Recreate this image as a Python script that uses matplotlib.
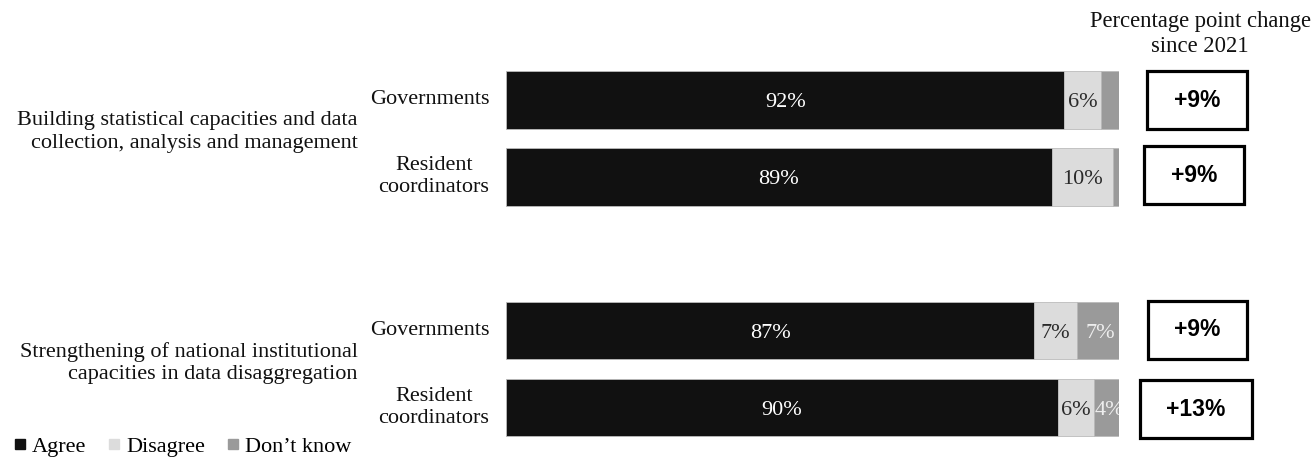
import matplotlib
matplotlib.use("Agg")
import matplotlib.pyplot as plt
from matplotlib.patches import Rectangle
from matplotlib.lines import Line2D
import numpy as np

# ---- data ----
groups = ["Building statistical capacities and data\ncollection, analysis and management",
          "Strengthening of national institutional\ncapacities in data disaggregation"]
respondents = ["Governments", "Resident\ncoordinators", "Governments", "Resident\ncoordinators"]
agree = [92, 89, 87, 90]
disagree = [6, 10, 7, 6]
dont_know = [3, 1, 7, 4]
show_dk_label = [False, False, True, True]
changes = ["+9%", "+9%", "+9%", "+13%"]
series_names = ["Agree", "Disagree", "Don\u2019t know"]

# ---- style ----
W, H = 1315, 458
SERIF = ["Liberation Serif", "DejaVu Serif"]
SANS = ["Liberation Sans", "DejaVu Sans"]
c_agree, c_dis, c_dk = "#111111", "#dcdcdc", "#9a9a9a"
fs = 16

fig = plt.figure(figsize=(W / 100, H / 100), dpi=100)

def px(x0, y0, x1, y1):
    return [x0 / W, 1 - y1 / H, (x1 - x0) / W, (y1 - y0) / H]

ypos = np.array([0, 1, 3, 4])
ax = fig.add_axes(px(506, 61.5, 1119, 446))
ax.set_xlim(0, 100)
ax.set_ylim(4.5, -0.5)
ax.axis("off")

tot = np.array(agree) + np.array(disagree) + np.array(dont_know)
a = np.array(agree) / tot * 100
d = np.array(disagree) / tot * 100
k = np.array(dont_know) / tot * 100
bh = 0.75
ax.barh(ypos, a, height=bh, color=c_agree, edgecolor="#bbbbbb", linewidth=0.6)
ax.barh(ypos, d, left=a, height=bh, color=c_dis, edgecolor="#bbbbbb", linewidth=0.6)
ax.barh(ypos, k, left=a + d, height=bh, color=c_dk, edgecolor="#bbbbbb", linewidth=0.6)

dy = 0.035
for i, y in enumerate(ypos):
    ax.text(a[i] / 2, y + dy, f"{agree[i]}%", ha="center", va="center", color="white",
            fontsize=fs, family=SERIF)
    ax.text(a[i] + d[i] / 2, y + dy, f"{disagree[i]}%", ha="center", va="center",
            color="#2a2a2a", fontsize=fs, family=SERIF, clip_on=True)
    if show_dk_label[i]:
        ax.text(a[i] + d[i] + k[i] / 2 + 0.4, y + dy, f"{dont_know[i]}%", ha="center",
                va="center", color="#eeeeee", fontsize=fs, family=SERIF, clip_on=True)

# respondent labels
for i, y in enumerate(ypos):
    ax.text(-2.7, y, respondents[i], ha="right", va="center",
            multialignment="center", fontsize=fs, family=SERIF, color="#111111",
            linespacing=1.2)

# group labels
for g, yc in enumerate([0.42, 3.42]):
    ax.text(-24.2, yc, groups[g], ha="right", va="center", multialignment="right",
            fontsize=fs, family=SERIF, color="#111111", linespacing=1.25)

# change boxes (pixel layout)
box_x = [1147, 1144, 1148, 1140]
box_w = [100, 100, 99, 112]
box_c = [100, 175, 330, 409]
box_h = 58
for i in range(4):
    x0 = box_x[i]
    y0 = box_c[i] - box_h / 2
    fig.patches.append(Rectangle((x0 / W, 1 - (y0 + box_h) / H), box_w[i] / W, box_h / H,
                                 transform=fig.transFigure, fill=False,
                                 edgecolor="black", linewidth=2.3))
    fig.text((x0 + box_w[i] / 2) / W, 1 - box_c[i] / H, changes[i], ha="center",
             va="center", fontsize=16.5, fontweight="bold", family=SANS)

fig.text(1200 / W, 1 - 34 / H, "Percentage point change\nsince 2021", ha="center",
         va="center", multialignment="center", fontsize=16.3, family=SERIF,
         color="#111111", linespacing=1.3)

# legend
handles = [Line2D([], [], marker="s", linestyle="none", markersize=7.5, color=c)
           for c in (c_agree, c_dis, c_dk)]
fig.legend(handles, series_names, loc="lower left", bbox_to_anchor=(0.0, -0.026),
           ncol=3, frameon=False, prop={"family": SERIF, "size": fs},
           handlelength=0.6, handletextpad=0.25, columnspacing=0.95, borderaxespad=0.2)

fig.savefig("out.png", dpi=100)
